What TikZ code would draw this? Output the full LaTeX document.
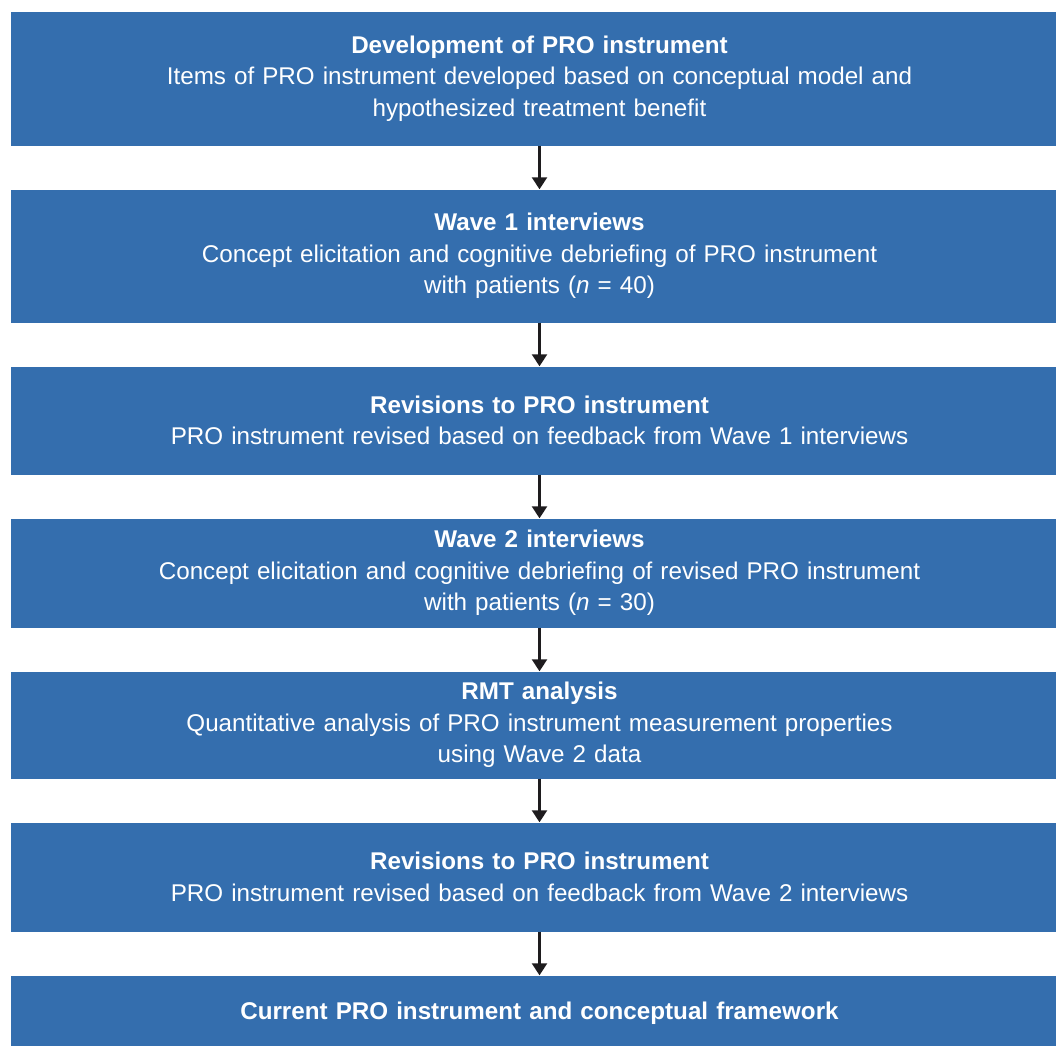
\documentclass[tikz,border=0pt]{standalone}
\usepackage{fontspec}
\setmainfont{Liberation Sans}
\usepackage{xcolor}
\usetikzlibrary{arrows.meta}

\begin{document}
\begin{tikzpicture}[x=1pt,y=-1pt,
    stage/.style={rectangle,fill=cB,text=white,inner sep=0pt,
      minimum width=1057pt,text width=1000pt,align=center,
      font=\fontsize{24.2}{31.5}\selectfont},
    flow/.style={-{Triangle[length=12pt,width=15pt]},line width=2.3pt,draw=cA}]
      \definecolor{cB}{RGB}{52,110,174}
      \definecolor{cA}{RGB}{30,28,30}
      \useasboundingbox (0,0) rectangle (1056,1045);
      % one box per stage, top to bottom
      \node[stage,minimum height=134pt] (dev) at (539.5,78.5)
        {\textbf{Development of PRO instrument}\\
         Items of PRO instrument developed based on conceptual model and\\
         hypothesized treatment benefit};
      \node[stage,minimum height=133pt] (wone) at (539.5,256)
        {\textbf{Wave 1 interviews}\\
         Concept elicitation and cognitive debriefing of PRO instrument\\
         with patients (\textit{n} = 40)};
      \node[stage,minimum height=108pt] (revone) at (539.5,420.5)
        {\textbf{Revisions to PRO instrument}\\
         PRO instrument revised based on feedback from Wave 1 interviews};
      \node[stage,minimum height=109pt] (wtwo) at (539.5,573)
        {\textbf{Wave 2 interviews}\\
         Concept elicitation and cognitive debriefing of revised PRO instrument\\
         with patients (\textit{n} = 30)};
      \node[stage,minimum height=107pt] (rmt) at (539.5,725)
        {\textbf{RMT analysis}\\
         Quantitative analysis of PRO instrument measurement properties\\
         using Wave 2 data};
      \node[stage,minimum height=109pt] (revtwo) at (539.5,877)
        {\textbf{Revisions to PRO instrument}\\
         PRO instrument revised based on feedback from Wave 2 interviews};
      \node[stage,minimum height=76pt] (cur) at (539.5,1013.5)
        {\textbf{Current PRO instrument and conceptual framework}};
      % arrows between stages
      \draw[flow] (dev) -- (wone);
      \draw[flow] (wone) -- (revone);
      \draw[flow] (revone) -- (wtwo);
      \draw[flow] (wtwo) -- (rmt);
      \draw[flow] (rmt) -- (revtwo);
      \draw[flow] (revtwo) -- (cur);
    \end{tikzpicture}
\end{document}
